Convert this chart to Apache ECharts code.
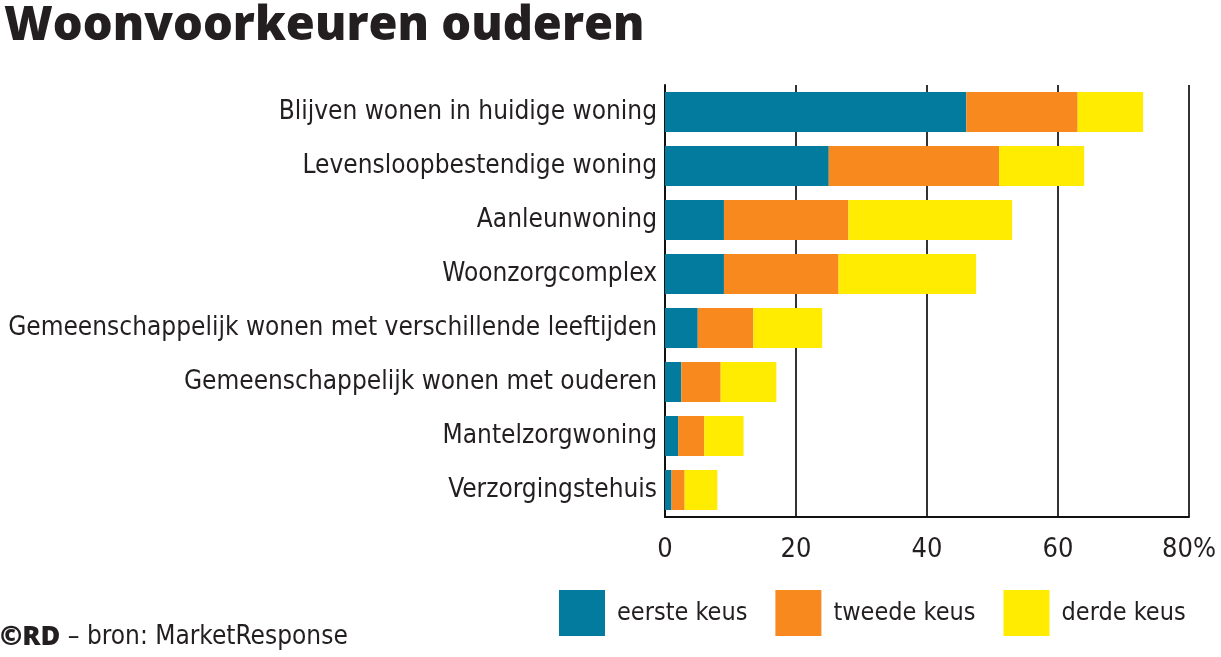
<!DOCTYPE html>
<html>
<head>
<meta charset="utf-8">
<script src="https://cdn.jsdelivr.net/npm/echarts@6/dist/echarts.min.js"></script>
<style>html,body{margin:0;padding:0;background:#fff}#c{width:1221px;height:657px}</style>
</head>
<body>
<div id="c"></div>
<script>
const categories = [
  'Blijven wonen in huidige woning',
  'Levensloopbestendige woning',
  'Aanleunwoning',
  'Woonzorgcomplex',
  'Gemeenschappelijk wonen met verschillende leeftijden',
  'Gemeenschappelijk wonen met ouderen',
  'Mantelzorgwoning',
  'Verzorgingstehuis'
];
const eersteKeus = [46, 25, 9, 9, 5, 2.5, 2, 1];
const tweedeKeus = [17, 26, 19, 17.5, 8.5, 6, 4, 2];
const derdeKeus = [10, 13, 25, 21, 10.5, 8.5, 6, 5];
const seriesNames = ['eerste keus', 'tweede keus', 'derde keus'];
const xTicks = [0, 20, 40, 60, 80];

const FONT = '"Liberation Sans Narrow", "DejaVu Sans Condensed", "Open Sans", sans-serif';
const TXT = '#231f20';
const colors = ['#027b9e', '#f7891f', '#ffec00'];

const chart = echarts.init(document.getElementById('c'), null, {renderer: 'canvas'});
const seriesData = [eersteKeus, tweedeKeus, derdeKeus];
chart.setOption({
  animation: false,
  color: colors,
  title: {
    text: 'Woonvoorkeuren ouderen',
    left: -1, top: -2,
    textStyle: {fontFamily: '"Open Sans", sans-serif', fontWeight: 800, fontSize: 47, color: TXT}
  },
  graphic: [{
    type: 'text', left: 0, top: 624,
    style: {
      text: '{b|©RD} – bron: MarketResponse',
      rich: {b: {fontFamily: '"Open Sans", sans-serif', fontWeight: 800, fontSize: 27, fill: TXT}},
      font: '26px ' + FONT, fill: TXT
    }
  }],
  legend: {
    left: 559, top: 590, width: 660, padding: 0,
    icon: 'rect', itemWidth: 46, itemHeight: 46, itemGap: 28,
    textStyle: {fontFamily: FONT, fontSize: 25, color: TXT, padding: [0, 0, 0, 7]},
    data: seriesNames
  },
  grid: {left: 665, right: 32, top: 85, bottom: 140, containLabel: false, outerBoundsMode: 'none'},
  xAxis: {
    type: 'value', min: 0, max: 80, interval: 20,
    axisLine: {show: true, lineStyle: {color: '#111', width: 2}},
    axisTick: {show: false},
    splitLine: {show: true, lineStyle: {color: '#333', width: 2}},
    axisLabel: {
      fontFamily: FONT, fontSize: 27, color: TXT, margin: 19,
      formatter: v => xTicks.indexOf(v) === xTicks.length - 1 ? v + '%' : String(v)
    }
  },
  yAxis: {
    type: 'category', inverse: true, data: categories,
    axisLine: {show: true, lineStyle: {color: '#111', width: 2}},
    axisTick: {show: false},
    axisLabel: {fontFamily: FONT, fontSize: 26, color: TXT, margin: 8}
  },
  series: seriesNames.map((n, i) => ({
    name: n, type: 'bar', stack: 'total', barWidth: '74%',
    data: seriesData[i]
  }))
});
</script>
</body>
</html>
